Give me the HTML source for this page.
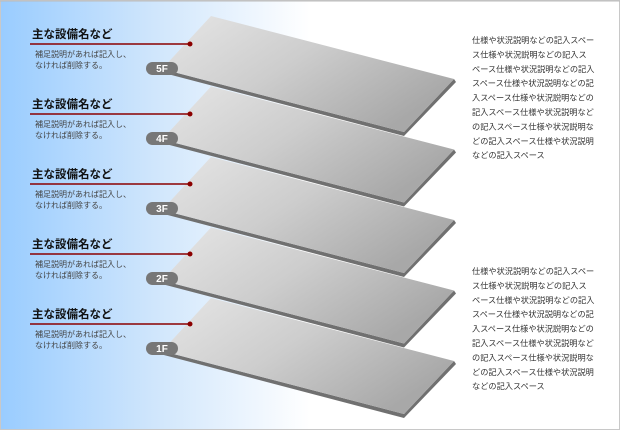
<!DOCTYPE html>
<html><head><meta charset="utf-8"><style>
html,body{margin:0;padding:0;width:620px;height:430px;overflow:hidden;background:#fff}
</style></head><body>
<svg width="620" height="430" viewBox="0 0 620 430" xmlns="http://www.w3.org/2000/svg" font-family="Liberation Sans, Noto Sans CJK JP, sans-serif">
<defs>
<linearGradient id="bg" x1="0" y1="0" x2="1" y2="0">
<stop offset="0" stop-color="#99ccff"/><stop offset="0.25" stop-color="#d0e6fc"/><stop offset="0.5" stop-color="#fff"/><stop offset="1" stop-color="#fff"/>
</linearGradient>
<linearGradient id="pl" x1="0" y1="0" x2="1" y2="0.6">
<stop offset="0" stop-color="#e6e6e6"/><stop offset="0.5" stop-color="#cdcdcd"/><stop offset="1" stop-color="#a8a8a8"/>
</linearGradient>
</defs>
<rect x="0" y="0" width="620" height="430" fill="url(#bg)"/>
<rect x="0.5" y="0.5" width="619" height="429" fill="none" stroke="#c8c8c8"/>
<line x1="0" y1="1" x2="620" y2="1" stroke="#bbb"/>
<g id="plates">
<g transform="translate(0,0)">
<polygon points="162,69 404,132 404,136 160,72" fill="#707070"/>
<polygon points="454,79 404,132 404,136 456,82" fill="#707070"/>
<polygon points="211,16 454,79 404,132 162,69" fill="url(#pl)"/>
</g>
<g transform="translate(0,70.5)">
<polygon points="162,69 404,132 404,136 160,72" fill="#707070"/>
<polygon points="454,79 404,132 404,136 456,82" fill="#707070"/>
<polygon points="211,16 454,79 404,132 162,69" fill="url(#pl)"/>
</g>
<g transform="translate(0,141)">
<polygon points="162,69 404,132 404,136 160,72" fill="#707070"/>
<polygon points="454,79 404,132 404,136 456,82" fill="#707070"/>
<polygon points="211,16 454,79 404,132 162,69" fill="url(#pl)"/>
</g>
<g transform="translate(0,211.5)">
<polygon points="162,69 404,132 404,136 160,72" fill="#707070"/>
<polygon points="454,79 404,132 404,136 456,82" fill="#707070"/>
<polygon points="211,16 454,79 404,132 162,69" fill="url(#pl)"/>
</g>
<g transform="translate(0,282)">
<polygon points="162,69 404,132 404,136 160,72" fill="#707070"/>
<polygon points="454,79 404,132 404,136 456,82" fill="#707070"/>
<polygon points="211,16 454,79 404,132 162,69" fill="url(#pl)"/>
</g>
</g>
<g id="labels">
<g transform="translate(0,0)">
<text x="32" y="38" font-size="11.5" font-weight="bold" fill="#111">主な設備名など</text>
<line x1="30" y1="44" x2="190" y2="44" stroke="#8b0000" stroke-width="1.5"/>
<circle cx="190" cy="44" r="2.5" fill="#8b0000"/>
<text x="35" y="57" font-size="8" fill="#444">補足説明があれば記入し、</text>
<text x="35" y="68" font-size="8" fill="#444">なければ削除する。</text>
<rect x="146" y="62" width="32" height="13" rx="6.5" fill="#777"/>
<text x="162" y="72" font-size="10" font-weight="bold" fill="#fff" text-anchor="middle">5F</text>
</g>
<g transform="translate(0,70)">
<text x="32" y="38" font-size="11.5" font-weight="bold" fill="#111">主な設備名など</text>
<line x1="30" y1="44" x2="190" y2="44" stroke="#8b0000" stroke-width="1.5"/>
<circle cx="190" cy="44" r="2.5" fill="#8b0000"/>
<text x="35" y="57" font-size="8" fill="#444">補足説明があれば記入し、</text>
<text x="35" y="68" font-size="8" fill="#444">なければ削除する。</text>
<rect x="146" y="62" width="32" height="13" rx="6.5" fill="#777"/>
<text x="162" y="72" font-size="10" font-weight="bold" fill="#fff" text-anchor="middle">4F</text>
</g>
<g transform="translate(0,140)">
<text x="32" y="38" font-size="11.5" font-weight="bold" fill="#111">主な設備名など</text>
<line x1="30" y1="44" x2="190" y2="44" stroke="#8b0000" stroke-width="1.5"/>
<circle cx="190" cy="44" r="2.5" fill="#8b0000"/>
<text x="35" y="57" font-size="8" fill="#444">補足説明があれば記入し、</text>
<text x="35" y="68" font-size="8" fill="#444">なければ削除する。</text>
<rect x="146" y="62" width="32" height="13" rx="6.5" fill="#777"/>
<text x="162" y="72" font-size="10" font-weight="bold" fill="#fff" text-anchor="middle">3F</text>
</g>
<g transform="translate(0,210)">
<text x="32" y="38" font-size="11.5" font-weight="bold" fill="#111">主な設備名など</text>
<line x1="30" y1="44" x2="190" y2="44" stroke="#8b0000" stroke-width="1.5"/>
<circle cx="190" cy="44" r="2.5" fill="#8b0000"/>
<text x="35" y="57" font-size="8" fill="#444">補足説明があれば記入し、</text>
<text x="35" y="68" font-size="8" fill="#444">なければ削除する。</text>
<rect x="146" y="62" width="32" height="13" rx="6.5" fill="#777"/>
<text x="162" y="72" font-size="10" font-weight="bold" fill="#fff" text-anchor="middle">2F</text>
</g>
<g transform="translate(0,280)">
<text x="32" y="38" font-size="11.5" font-weight="bold" fill="#111">主な設備名など</text>
<line x1="30" y1="44" x2="190" y2="44" stroke="#8b0000" stroke-width="1.5"/>
<circle cx="190" cy="44" r="2.5" fill="#8b0000"/>
<text x="35" y="57" font-size="8" fill="#444">補足説明があれば記入し、</text>
<text x="35" y="68" font-size="8" fill="#444">なければ削除する。</text>
<rect x="146" y="62" width="32" height="13" rx="6.5" fill="#777"/>
<text x="162" y="72" font-size="10" font-weight="bold" fill="#fff" text-anchor="middle">1F</text>
</g>
</g>
<g font-size="8.2" fill="#333">
<text x="472" y="43">仕様や状況説明などの記入スペー</text>
<text x="472" y="57.4">ス仕様や状況説明などの記入ス</text>
<text x="472" y="71.8">ペース仕様や状況説明などの記入</text>
<text x="472" y="86.2">スペース仕様や状況説明などの記</text>
<text x="472" y="100.6">入スペース仕様や状況説明などの</text>
<text x="472" y="115">記入スペース仕様や状況説明など</text>
<text x="472" y="129.4">の記入スペース仕様や状況説明な</text>
<text x="472" y="143.8">どの記入スペース仕様や状況説明</text>
<text x="472" y="158.2">などの記入スペース</text>
<text x="472" y="274">仕様や状況説明などの記入スペー</text>
<text x="472" y="288.4">ス仕様や状況説明などの記入ス</text>
<text x="472" y="302.8">ペース仕様や状況説明などの記入</text>
<text x="472" y="317.2">スペース仕様や状況説明などの記</text>
<text x="472" y="331.6">入スペース仕様や状況説明などの</text>
<text x="472" y="346">記入スペース仕様や状況説明など</text>
<text x="472" y="360.4">の記入スペース仕様や状況説明な</text>
<text x="472" y="374.8">どの記入スペース仕様や状況説明</text>
<text x="472" y="389.2">などの記入スペース</text>
</g>
</svg>
</body></html>
